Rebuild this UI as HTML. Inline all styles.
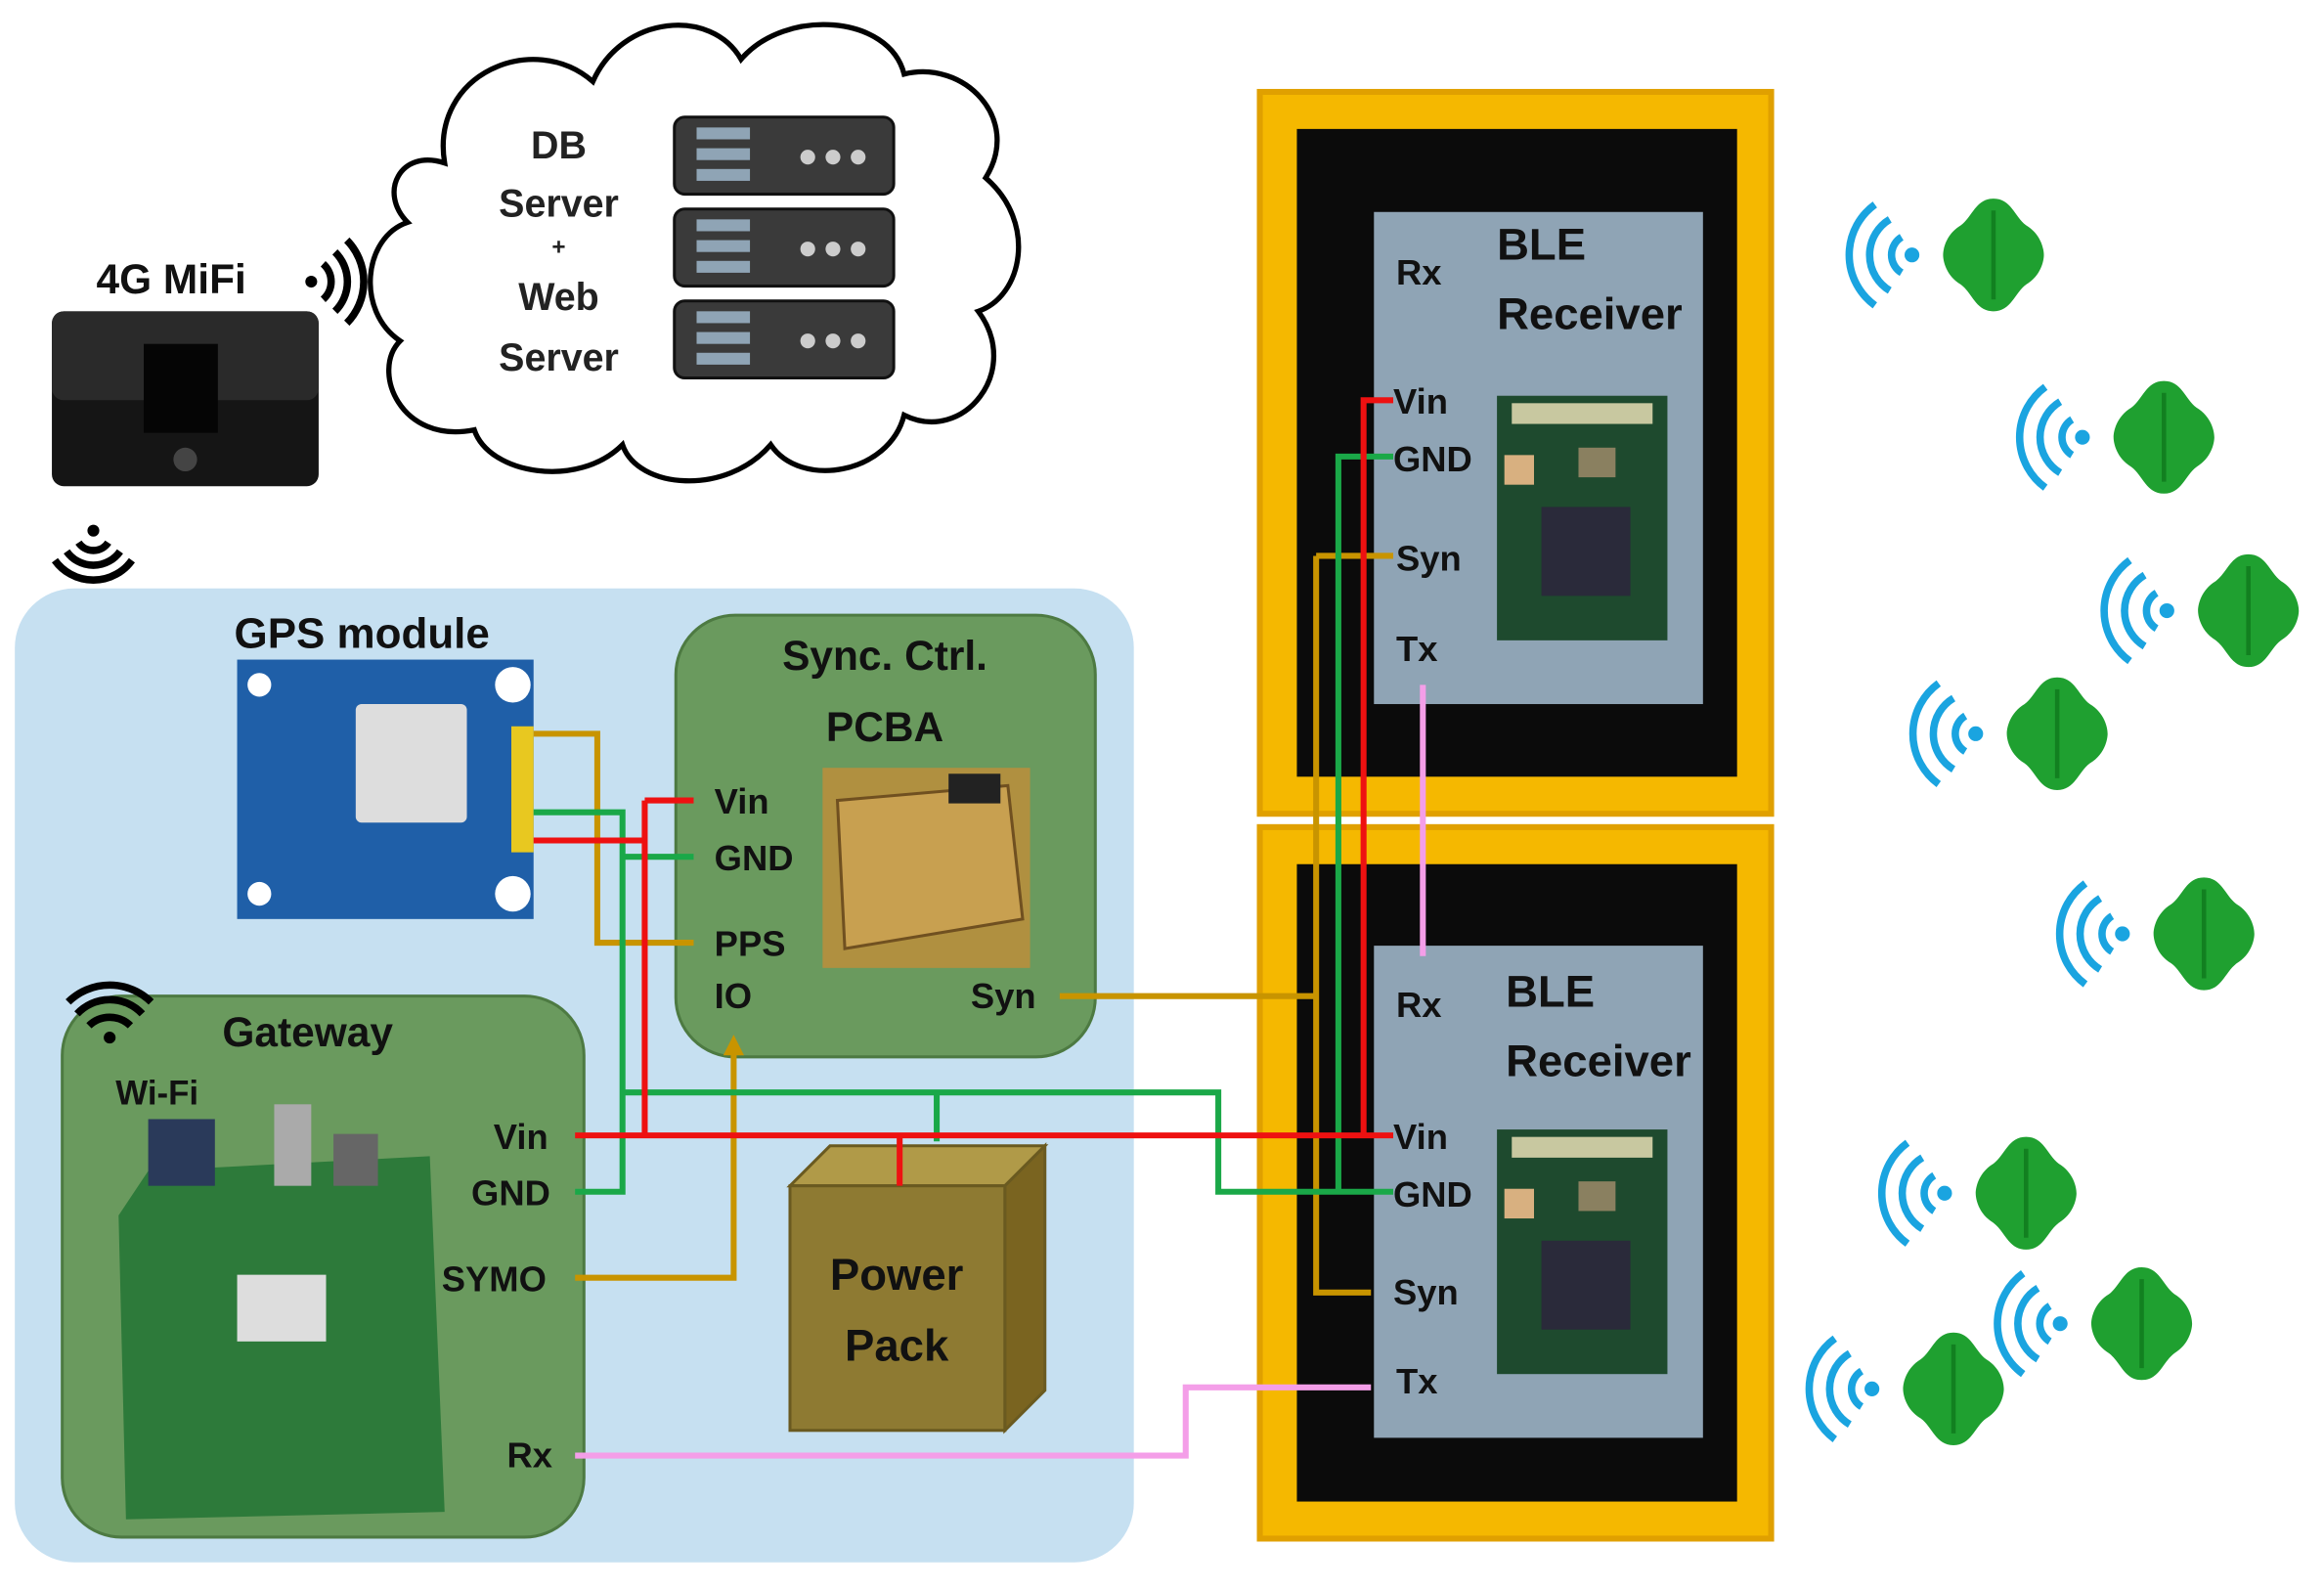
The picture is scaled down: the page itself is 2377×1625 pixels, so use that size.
<!DOCTYPE html>
<html><head><meta charset="utf-8"><style>html,body{margin:0;padding:0;background:#fff}svg{display:block}</style></head>
<body>
<svg width="2377" height="1625" viewBox="0 0 1568 1072" preserveAspectRatio="none" xmlns="http://www.w3.org/2000/svg" font-family="Liberation Sans, sans-serif" font-weight="bold">
<defs>
<g id="tag">
<path d="M0,-38 C12,-38 14,-26 22,-20 C32,-14 34,-4 34,0 C34,4 32,14 22,20 C14,26 12,38 0,38 C-12,38 -14,26 -22,20 C-32,14 -34,4 -34,0 C-34,-4 -32,-14 -22,-20 C-14,-26 -12,-38 0,-38Z" fill="#1fa030"/>
<path d="M0,-30 L0,30" stroke="#128020" stroke-width="3"/>
<circle cx="-55" cy="0" r="5" fill="#1aa4e0"/>
<path d="M-62,-12 A14,14 0 0 0 -62,12" fill="none" stroke="#1aa4e0" stroke-width="5"/>
<path d="M-70,-24 A28,28 0 0 0 -70,24" fill="none" stroke="#1aa4e0" stroke-width="5"/>
<path d="M-80,-34 A42,42 0 0 0 -80,34" fill="none" stroke="#1aa4e0" stroke-width="5"/>
</g>
<g id="ble">
<rect x="0" y="0" width="115" height="165" fill="#1e4a2e"/>
<rect x="10" y="5" width="95" height="14" fill="#c8c8a0"/>
<rect x="30" y="75" width="60" height="60" fill="#2a2a3a"/>
<rect x="5" y="40" width="20" height="20" fill="#d8b080"/>
<rect x="55" y="35" width="25" height="20" fill="#8a8060"/>
</g>
</defs>
<rect width="1568" height="1072" fill="#fff"/>
<!-- cloud -->
<path d="M300,110 C290,50 360,20 400,55 C420,10 480,5 500,40 C530,5 600,10 610,50 C650,40 690,80 665,120 C700,150 690,200 660,210 C690,250 650,300 610,280 C600,320 540,330 520,300 C490,335 430,330 420,300 C390,330 330,320 320,290 C270,300 250,250 270,230 C240,210 245,160 275,150 C255,130 270,100 300,110Z" fill="#fff" stroke="#000" stroke-width="3.5"/>
<text x="377" y="107" font-size="26" text-anchor="middle" fill="#222">DB</text>
<text x="377" y="146" font-size="26" text-anchor="middle" fill="#222">Server</text>
<text x="377" y="172" font-size="16" text-anchor="middle" fill="#222">+</text>
<text x="377" y="209" font-size="26" text-anchor="middle" fill="#222">Web</text>
<text x="377" y="250" font-size="26" text-anchor="middle" fill="#222">Server</text>
<g fill="#3a3a3a" stroke="#111" stroke-width="2">
<rect x="455" y="79" width="148" height="52" rx="7"/><rect x="455" y="141" width="148" height="52" rx="7"/><rect x="455" y="203" width="148" height="52" rx="7"/>
</g>
<g fill="#8fa4b5">
<rect x="470" y="86" width="36" height="8"/><rect x="470" y="100" width="36" height="8"/><rect x="470" y="114" width="36" height="8"/>
<rect x="470" y="148" width="36" height="8"/><rect x="470" y="162" width="36" height="8"/><rect x="470" y="176" width="36" height="8"/>
<rect x="470" y="210" width="36" height="8"/><rect x="470" y="224" width="36" height="8"/><rect x="470" y="238" width="36" height="8"/>
</g>
<g fill="#ccc"><circle cx="545" cy="106" r="5"/><circle cx="562" cy="106" r="5"/><circle cx="579" cy="106" r="5"/>
<circle cx="545" cy="168" r="5"/><circle cx="562" cy="168" r="5"/><circle cx="579" cy="168" r="5"/>
<circle cx="545" cy="230" r="5"/><circle cx="562" cy="230" r="5"/><circle cx="579" cy="230" r="5"/></g>
<!-- MiFi -->
<text x="65" y="198" font-size="28" fill="#111">4G MiFi</text>
<circle cx="210" cy="190" r="4" fill="#000"/>
<path d="M218,178 A16,16 0 0 1 218,202 M226,170 A28,28 0 0 1 226,210 M234,162 A40,40 0 0 1 234,218" fill="none" stroke="#000" stroke-width="5"/>
<rect x="35" y="210" width="180" height="118" rx="8" fill="#151515"/>
<rect x="35" y="210" width="180" height="60" rx="8" fill="#2a2a2a"/>
<rect x="97" y="232" width="50" height="60" fill="#050505"/>
<circle cx="125" cy="310" r="8" fill="#444"/>
<circle cx="63" cy="358" r="4" fill="#000"/>
<path d="M53,366 A12,12 0 0 0 73,366 M45,372 A22,22 0 0 0 81,372 M37,378 A32,32 0 0 0 89,378" fill="none" stroke="#000" stroke-width="5"/>
<!-- blue region -->
<rect x="10" y="397" width="755" height="657" rx="40" fill="#c6e0f1"/>
<!-- sync ctrl -->
<rect x="456" y="415" width="283" height="298" rx="40" fill="#6a9a5e" stroke="#4d7a42" stroke-width="2"/>
<text x="597" y="452" font-size="28" text-anchor="middle" fill="#111">Sync. Ctrl.</text>
<text x="597" y="500" font-size="28" text-anchor="middle" fill="#111">PCBA</text>
<rect x="555" y="518" width="140" height="135" fill="#b09040"/>
<path d="M565,540 L680,530 L690,620 L570,640Z" fill="#c8a050" stroke="#705020" stroke-width="2"/>
<rect x="640" y="522" width="35" height="20" fill="#222"/>
<text x="482" y="549" font-size="24" fill="#111">Vin</text>
<text x="482" y="587" font-size="24" fill="#111">GND</text>
<text x="482" y="645" font-size="24" fill="#111">PPS</text>
<text x="482" y="680" font-size="24" fill="#111">IO</text>
<text x="655" y="680" font-size="24" fill="#111">Syn</text>
<!-- GPS -->
<text x="158" y="437" font-size="29" fill="#111">GPS module</text>
<rect x="160" y="445" width="200" height="175" fill="#1f5fa8"/>
<circle cx="346" cy="462" r="12" fill="#fff"/><circle cx="346" cy="603" r="12" fill="#fff"/>
<circle cx="175" cy="462" r="8" fill="#fff"/><circle cx="175" cy="603" r="8" fill="#fff"/>
<rect x="240" y="475" width="75" height="80" rx="4" fill="#ddd"/>
<rect x="345" y="490" width="15" height="85" fill="#e8c820"/>
<!-- gateway -->
<rect x="42" y="672" width="352" height="365" rx="40" fill="#6a9a5e" stroke="#4d7a42" stroke-width="2"/>
<text x="150" y="706" font-size="28" fill="#111">Gateway</text>
<text x="78" y="745" font-size="23" fill="#111">Wi-Fi</text>
<circle cx="74" cy="700" r="4" fill="#000"/>
<path d="M60,692 A20,20 0 0 1 88,692 M52,684 A30,30 0 0 1 96,684 M46,676 A40,40 0 0 1 102,676" fill="none" stroke="#000" stroke-width="5"/>
<path d="M100,790 L290,780 L300,1020 L85,1025 L80,820Z" fill="#2d7a3a"/>
<rect x="100" y="755" width="45" height="45" fill="#2a3a5a"/>
<rect x="185" y="745" width="25" height="55" fill="#aaa"/>
<rect x="225" y="765" width="30" height="35" fill="#666"/>
<rect x="160" y="860" width="60" height="45" fill="#ddd"/>
<text x="333" y="775" font-size="24" fill="#111">Vin</text>
<text x="318" y="813" font-size="24" fill="#111">GND</text>
<text x="298" y="871" font-size="24" fill="#111">SYMO</text>
<text x="342" y="990" font-size="24" fill="#111">Rx</text>
<!-- power pack -->
<path d="M533,800 L560,773 L705,773 L678,800Z" fill="#b09a48" stroke="#6a5a20" stroke-width="2"/>
<path d="M678,800 L705,773 L705,938 L678,965Z" fill="#7a6420" stroke="#6a5a20" stroke-width="2"/>
<rect x="533" y="800" width="145" height="165" fill="#8e7a32" stroke="#6a5a20" stroke-width="2"/>
<text x="605" y="870" font-size="30" text-anchor="middle" fill="#111">Power</text>
<text x="605" y="918" font-size="30" text-anchor="middle" fill="#111">Pack</text>
<!-- frames -->
<rect x="850" y="62" width="345" height="487" fill="#f5b800" stroke="#e0a000" stroke-width="4"/>
<rect x="875" y="87" width="297" height="437" fill="#0b0b0b"/>
<rect x="927" y="143" width="222" height="332" fill="#8fa4b5"/>
<rect x="850" y="558" width="345" height="480" fill="#f5b800" stroke="#e0a000" stroke-width="4"/>
<rect x="875" y="583" width="297" height="430" fill="#0b0b0b"/>
<rect x="927" y="638" width="222" height="332" fill="#8fa4b5"/>
<use href="#ble" x="1010" y="267"/>
<use href="#ble" x="1010" y="762"/>
<g font-size="24" fill="#111">
<text x="1010" y="175" font-size="30">BLE</text><text x="1010" y="222" font-size="30">Receiver</text>
<text x="942" y="192">Rx</text><text x="940" y="279">Vin</text><text x="940" y="318">GND</text><text x="942" y="385">Syn</text><text x="942" y="446">Tx</text>
<text x="1016" y="679" font-size="30">BLE</text><text x="1016" y="726" font-size="30">Receiver</text>
<text x="942" y="686">Rx</text><text x="940" y="775">Vin</text><text x="940" y="814">GND</text><text x="940" y="880">Syn</text><text x="942" y="940">Tx</text>
</g>
<!-- wires -->
<g fill="none" stroke-width="4">
<path d="M960,462 V645" stroke="#f49ee8"/>
<path d="M388,982 H800 V936 H925" stroke="#f49ee8"/>
<path d="M360,495 H403 V636 H468" stroke="#c89400"/>
<path d="M388,862 H495 V708" stroke="#c89400"/>
<path d="M715,672 H888 M888,375 H940 M888,375 V872 H925" stroke="#c89400"/>
<path d="M360,548 H420 V804 H388 M420,578 H468 M420,737 H822 V804 H940 M903,804 V308 H940 M632,737 V770" stroke="#1aa848"/>
<path d="M360,567 H435 M435,540 H468 M435,540 V766 M388,766 H920 V270 H940 M920,766 H940 M607,766 V800" stroke="#ee1111"/>
</g>
<path d="M495,698 L488,712 L502,712Z" fill="#c89400"/>
<!-- tags -->
<use href="#tag" x="1345" y="172"/>
<use href="#tag" x="1460" y="295"/>
<use href="#tag" x="1517" y="412"/>
<use href="#tag" x="1388" y="495"/>
<use href="#tag" x="1487" y="630"/>
<use href="#tag" x="1367" y="805"/>
<use href="#tag" x="1445" y="893"/>
<use href="#tag" x="1318" y="937"/>
</svg>
</body></html>
